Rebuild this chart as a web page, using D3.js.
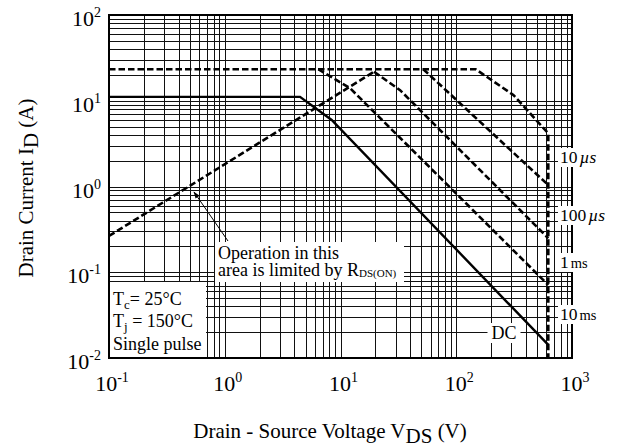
<!DOCTYPE html>
<html><head><meta charset="utf-8">
<script src="https://cdn.jsdelivr.net/npm/d3@7"></script>
<style>
html,body{margin:0;padding:0;background:#fff;}
text{font-family:"Liberation Serif","Times New Roman",serif;fill:#000;}
</style></head>
<body><svg id="c" width="621" height="448"></svg>
<script>
// ---- data ----
const xTickVals = [0.1, 1, 10, 100, 1000];
const xTickExp = ["-1", "0", "1", "2", "3"];
const yTickVals = [0.01, 0.1, 1, 10, 100];
const yTickExp = ["-2", "-1", "0", "1", "2"];

const dcV = [0.1, 4.47, 8.39, 624];
const dcI = [11.1, 11.1, 5.96, 0.0142];
const us10V = [0.1, 147, 311, 624, 624];
const us10I = [23.3, 23.3, 11.7, 4.17, 0.01];
const us100V = [51.9, 624];
const us100I = [23.3, 1.04];
const ms1V = [19.5, 32.7, 624];
const ms1I = [21.8, 13.3, 0.249];
const ms10V = [6.43, 12.1, 624];
const ms10I = [23.3, 14.0, 0.071];
const rdsV = [0.1, 19.5];
const rdsI = [0.265, 21.8];

const curveLabels = ["10", "100", "1", "10"];
const curveUnits = ["µs", "µs", "ms", "ms"];

// ---- layout ----
const svg = d3.select("#c");
const x = d3.scaleLog().domain([0.1, 1000]).range([109, 572]);
const y = d3.scaleLog().domain([0.01, 100]).range([358, 15]);

// grid
const gridVals = (lo, hi) => {
  const out = [];
  for (let e = lo; e < hi; e++) for (let m = 1; m <= 9; m++) out.push(m * Math.pow(10, e));
  out.push(Math.pow(10, hi));
  return out;
};
const gx = gridVals(-1, 3), gy = gridVals(-2, 2);
const grid = svg.append("g").attr("stroke", "#111").attr("stroke-width", 1).attr("shape-rendering", "crispEdges");
grid.selectAll("line.v").data(gx).join("line").attr("class", "v")
  .attr("x1", d => Math.round(x(d)) + 0.5).attr("x2", d => Math.round(x(d)) + 0.5)
  .attr("y1", y(0.01)).attr("y2", y(100));
grid.selectAll("line.h").data(gy).join("line").attr("class", "h")
  .attr("y1", d => Math.round(y(d)) + 0.5).attr("y2", d => Math.round(y(d)) + 0.5)
  .attr("x1", x(0.1)).attr("x2", x(1000));

// white annotation boxes (left)
svg.append("rect").attr("x", x(0.1)).attr("y", 282).attr("width", 97).attr("height", y(0.01) - 282).attr("fill", "#fff");
svg.append("rect").attr("x", 215).attr("y", 242).attr("width", 189).attr("height", 40).attr("fill", "#fff");

// curves
const line = d3.line().x(d => x(d[0])).y(d => y(d[1]));
const zip = (a, b) => a.map((v, i) => [v, b[i]]);
const dashed = [[us10V, us10I], [us100V, us100I], [ms1V, ms1I], [ms10V, ms10I], [rdsV, rdsI]];
dashed.forEach(([v, i]) => {
  svg.append("path").attr("d", line(zip(v, i))).attr("fill", "none")
    .attr("stroke", "#000").attr("stroke-width", 2.6).attr("stroke-dasharray", "6.5,3");
});
svg.append("path").attr("d", line(zip(dcV, dcI))).attr("fill", "none")
  .attr("stroke", "#000").attr("stroke-width", 2.4);

// frame
svg.append("rect").attr("x", x(0.1)).attr("y", y(100)).attr("width", x(1000) - x(0.1))
  .attr("height", y(0.01) - y(100)).attr("fill", "none").attr("stroke", "#000").attr("stroke-width", 2);

// tick labels
const xt = svg.append("g");
xTickVals.forEach((v, k) => {
  const t = xt.append("text").attr("x", x(v) + 3).attr("y", 391).attr("text-anchor", "middle").attr("font-size", 22);
  t.append("tspan").text("10");
  t.append("tspan").attr("font-size", 14).attr("dy", -9).text(xTickExp[k]);
});
yTickVals.forEach((v, k) => {
  const t = xt.append("text").attr("x", 101).attr("y", y(v) + 11).attr("text-anchor", "end").attr("font-size", 22);
  t.append("tspan").text("10");
  t.append("tspan").attr("font-size", 14).attr("dy", -9).text(yTickExp[k]);
});

// axis titles
const yt = svg.append("text").attr("transform", "translate(33,188) rotate(-90)")
  .attr("text-anchor", "middle").attr("font-size", 21);
yt.append("tspan").text("Drain Current I");
yt.append("tspan").attr("dy", 5).text("D");
yt.append("tspan").attr("dy", -5).text(" (A)");

const xtt = svg.append("text").attr("x", 330).attr("y", 438).attr("text-anchor", "middle").attr("font-size", 21);
xtt.append("tspan").text("Drain - Source Voltage V");
xtt.append("tspan").attr("dy", 5).text("DS");
xtt.append("tspan").attr("dy", -5).text("  (V)");

// annotation text: RDS(on)
const ann = svg.append("g").attr("font-size", 18);
ann.append("text").attr("x", 218).attr("y", 258.5).text("Operation in this");
const a2 = ann.append("text").attr("x", 218).attr("y", 276);
a2.append("tspan").text("area is limited by R");
a2.append("tspan").attr("font-size", 11).attr("dy", 1).text("DS(ON)");

// arrow
svg.append("defs").append("marker").attr("id", "ah").attr("viewBox", "0 0 10 10")
  .attr("refX", 9).attr("refY", 5).attr("markerWidth", 7).attr("markerHeight", 7)
  .attr("orient", "auto").append("path").attr("d", "M0,1.5 L10,5 L0,8.5 Z").attr("fill", "#000");
svg.append("line").attr("x1", 228).attr("y1", 241).attr("x2", 194).attr("y2", 192)
  .attr("stroke", "#000").attr("stroke-width", 1).attr("marker-end", "url(#ah)");

// conditions box text
const cond = svg.append("g").attr("font-size", 18);
const c1 = cond.append("text").attr("x", 113).attr("y", 305);
c1.append("tspan").text("T");
c1.append("tspan").attr("font-size", 13).attr("dy", 3.5).text("c");
c1.append("tspan").attr("dy", -3.5).text("= 25°C");
const c2 = cond.append("text").attr("x", 113).attr("y", 327);
c2.append("tspan").text("T");
c2.append("tspan").attr("font-size", 13).attr("dy", 3.5).text("j");
c2.append("tspan").attr("dy", -3.5).text(" = 150°C");
cond.append("text").attr("x", 113).attr("y", 350).text("Single pulse");

// curve labels on the right
const labY = [163, 221, 268, 320];
labY.forEach((ly, k) => {
  const g = svg.append("g");
  const t = g.append("text").attr("x", 560).attr("y", ly).attr("font-size", 17.5);
  t.append("tspan").text(curveLabels[k]);
  const u = t.append("tspan").attr("dx", 2).text(curveUnits[k]);
  if (curveUnits[k] === "µs") u.attr("font-style", "italic");
  else u.attr("font-size", 14.5);
  const bb = t.node().getBBox();
  g.insert("rect", "text").attr("x", bb.x - 2).attr("y", bb.y + 1).attr("width", bb.width + 4)
    .attr("height", bb.height - 1).attr("fill", "#fff");
});
// DC label
const dg = svg.append("g");
const dt = dg.append("text").attr("x", 504).attr("y", 339).attr("text-anchor", "middle").attr("font-size", 18).text("DC");
const db = dt.node().getBBox();
dg.insert("rect", "text").attr("x", db.x - 4).attr("y", db.y).attr("width", db.width + 8)
  .attr("height", db.height).attr("fill", "#fff");
</script></body></html>
